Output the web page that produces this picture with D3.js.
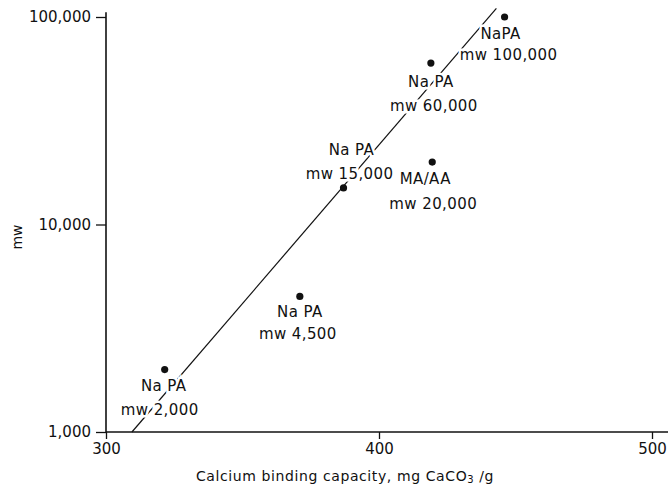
<!DOCTYPE html>
<html>
<head>
<meta charset="utf-8">
<script src="https://cdn.jsdelivr.net/npm/d3@7"></script>
<style>
  body { margin: 0; background: #fff; overflow: hidden; }
  svg { display: block; }
  text { font-family: "DejaVu Sans", sans-serif; fill: #111; }
</style>
</head>
<body>
<div class="chart"></div>
<script>
// data
var capacity = [321.5, 371, 387, 419.5, 419, 446];
var mw = [2000, 4500, 15000, 20000, 60000, 100000];
var line1 = ["Na PA", "Na PA", "Na PA", "MA/AA", "Na PA", "NaPA"];
var line2 = ["mw 2,000", "mw 4,500", "mw 15,000", "mw 20,000", "mw 60,000", "mw 100,000"];

// fitted line end points
var fitCapacity = [309.5, 443];
var fitMw = [1000, 110000];

var xTicks = [300, 400, 500];
var yTicks = [1000, 10000, 100000];

// label placement relative to each dot (px)
var labelDx = [[-1, -5], [0, -2], [8, 6], [-7, 1], [0, 3], [-4, 4]];
var labelDy = [[21, 45], [21, 43], [-33, -9], [22, 47], [24, 48], [22, 43]];

var svgWidth = 668;
var svgHeight = 484;

var svg = d3.select(".chart")
  .append("svg")
  .attr("width", svgWidth)
  .attr("height", svgHeight);

var xScale = d3.scaleLinear()
  .domain([300, 500])
  .range([106, 652]);

var yScale = d3.scaleLog()
  .domain([1000, 100000])
  .range([432, 17]);

// axes
var xAxis = d3.axisBottom(xScale)
  .tickValues(xTicks)
  .tickSize(7)
  .tickPadding(4)
  .tickFormat(d3.format("d"));

var yAxis = d3.axisLeft(yScale)
  .tickValues(yTicks)
  .tickSize(10)
  .tickPadding(5)
  .tickFormat(d3.format(","));

var gx = svg.append("g")
  .attr("transform", `translate(0, ${yScale(1000)})`)
  .call(xAxis);

var gy = svg.append("g")
  .attr("transform", `translate(${xScale(300)}, 0)`)
  .call(yAxis);

[gx, gy].forEach(function(g) {
  g.select(".domain").remove();
  g.selectAll(".tick line").attr("stroke", "#111").attr("stroke-width", 1.3);
  g.selectAll(".tick text")
    .style("font-family", "DejaVu Sans")
    .style("font-size", "15px")
    .attr("fill", "#111");
});

// axis lines, run past the last tick like the original
svg.append("line")
  .attr("x1", xScale(300)).attr("x2", svgWidth)
  .attr("y1", yScale(1000)).attr("y2", yScale(1000))
  .attr("stroke", "#111").attr("stroke-width", 1.6);

svg.append("line")
  .attr("x1", xScale(300)).attr("x2", xScale(300))
  .attr("y1", yScale(1000)).attr("y2", yScale(105500))
  .attr("stroke", "#111").attr("stroke-width", 1.6);

// axis titles
svg.append("text")
  .attr("x", 345)
  .attr("y", 481)
  .attr("text-anchor", "middle")
  .style("font-size", "14px")
  .style("letter-spacing", "0.6px")
  .html("Calcium binding capacity, mg CaCO<tspan font-size='10px' dy='2'>3</tspan><tspan dy='-2'> /g</tspan>");

svg.append("text")
  .attr("transform", "translate(22, 237) rotate(-90)")
  .attr("text-anchor", "middle")
  .style("font-size", "14px")
  .text("mw");

// fitted line
var fit = fitCapacity.map(function(c, i) { return [c, fitMw[i]]; });
svg.append("path")
  .datum(fit)
  .attr("d", d3.line().x(d => xScale(d[0])).y(d => yScale(d[1])))
  .attr("fill", "none")
  .attr("stroke", "#111")
  .attr("stroke-width", 1.2);

// labels with a white halo so the line breaks around them
var points = capacity.map(function(c, i) {
  return { cap: c, mw: mw[i], a: line1[i], b: line2[i], i: i };
});

var labels = svg.append("g").selectAll("g")
  .data(points)
  .enter()
  .append("g");

[0, 1].forEach(function(k) {
  labels.append("text")
    .attr("x", d => xScale(d.cap) + labelDx[d.i][k])
    .attr("y", d => yScale(d.mw) + labelDy[d.i][k])
    .attr("text-anchor", "middle")
    .style("font-size", "15px")
    .style("letter-spacing", "0.4px")
    .attr("stroke", "#fff")
    .attr("stroke-width", 5)
    .attr("paint-order", "stroke")
    .text(d => k === 0 ? d.a : d.b);
});

// dots
svg.append("g").selectAll("circle")
  .data(points)
  .enter()
  .append("circle")
  .attr("cx", d => xScale(d.cap))
  .attr("cy", d => yScale(d.mw))
  .attr("r", 3.6)
  .attr("fill", "#111");
</script>
</body>
</html>
